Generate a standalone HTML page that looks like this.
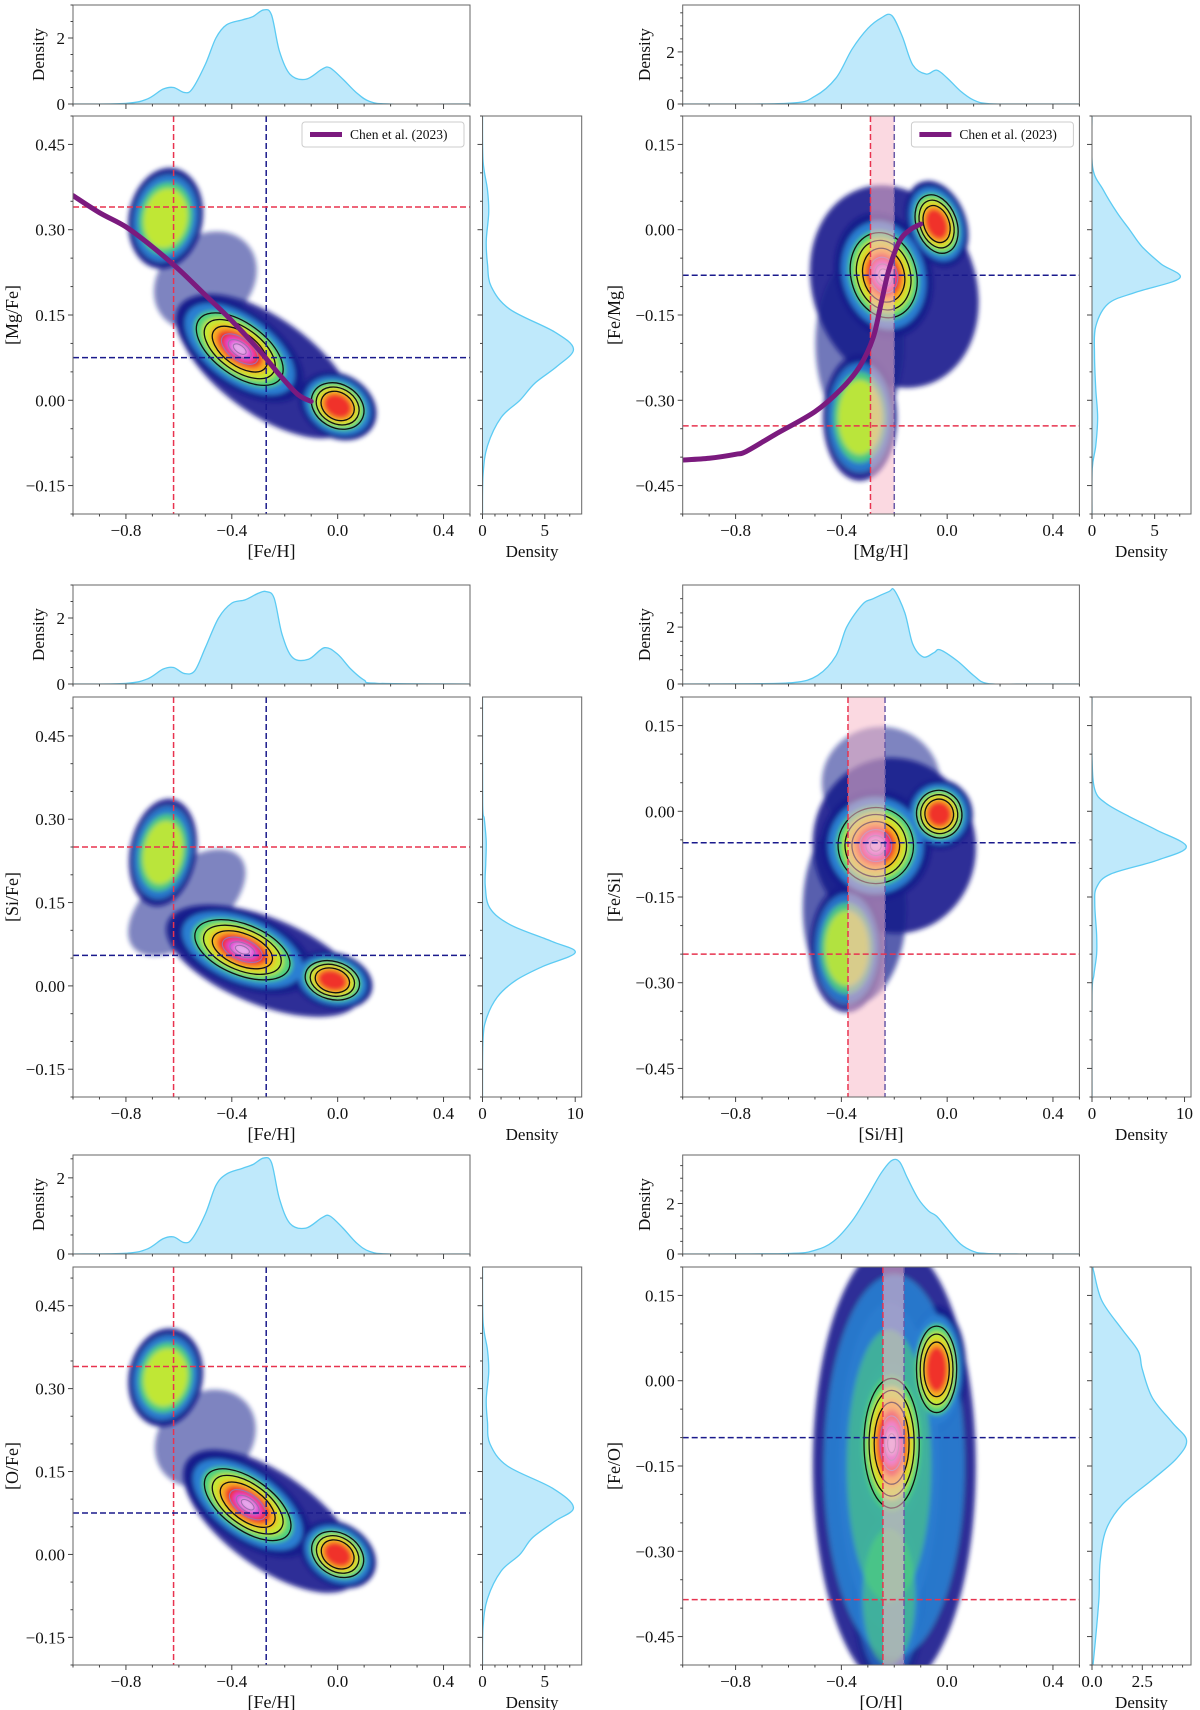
<!DOCTYPE html>
<html><head><meta charset="utf-8"><title>Abundance ratio panels</title>
<style>
html,body{margin:0;padding:0;background:#fff;}
svg{display:block;font-family:"Liberation Serif",serif;}
</style></head>
<body>
<svg id="fig" width="1200" height="1710" viewBox="0 0 1200 1710" xmlns="http://www.w3.org/2000/svg">
<defs>
<filter id="soft" x="-20%" y="-20%" width="140%" height="140%"><feGaussianBlur stdDeviation="2.4"/></filter>
</defs>
</svg>
<script>
// ---------- DATA ----------
const p1TopX=[-1,-0.8,-0.72,-0.66,-0.62,-0.58,-0.55,-0.5,-0.46,-0.42,-0.36,-0.32,-0.28,-0.25,-0.22,-0.18,-0.12,-0.06,-0.03,0.02,0.07,0.12,0.2,0.5];
const p1TopD=[0,0.02,0.15,0.45,0.5,0.35,0.45,1.2,2.0,2.4,2.55,2.65,2.85,2.7,1.6,0.9,0.75,1.05,1.1,0.75,0.35,0.08,0,0];
const p2TopX=[-1,-0.6,-0.5,-0.42,-0.36,-0.3,-0.25,-0.21,-0.17,-0.13,-0.08,-0.04,0.0,0.05,0.1,0.15,0.25,0.5];
const p2TopD=[0,0.03,0.3,1.0,2.1,2.9,3.3,3.4,2.6,1.5,1.15,1.3,1.0,0.5,0.15,0.02,0,0];
const p3TopX=[-1,-0.8,-0.72,-0.66,-0.62,-0.58,-0.54,-0.5,-0.45,-0.4,-0.35,-0.3,-0.27,-0.24,-0.21,-0.17,-0.11,-0.05,0.0,0.05,0.1,0.15,0.5];
const p3TopD=[0,0.02,0.15,0.45,0.5,0.32,0.4,1.1,2.0,2.45,2.55,2.75,2.8,2.6,1.5,0.8,0.75,1.1,0.9,0.45,0.12,0.02,0];
const p4TopX=[-1,-0.75,-0.58,-0.49,-0.42,-0.38,-0.32,-0.28,-0.22,-0.2,-0.16,-0.13,-0.09,-0.05,-0.026,0.04,0.1,0.15,0.27,0.5];
const p4TopD=[0,0.01,0.05,0.3,1.0,2.0,2.8,3.0,3.25,3.3,2.5,1.4,0.95,1.1,1.2,0.8,0.3,0.02,0,0];
const p5TopX=[-1,-0.8,-0.72,-0.66,-0.62,-0.58,-0.55,-0.5,-0.46,-0.42,-0.36,-0.32,-0.28,-0.25,-0.22,-0.18,-0.12,-0.06,-0.03,0.02,0.07,0.12,0.2,0.5];
const p5TopD=[0,0.02,0.13,0.4,0.45,0.3,0.4,1.05,1.8,2.1,2.25,2.35,2.52,2.4,1.45,0.8,0.68,0.95,1.0,0.68,0.3,0.07,0,0];
const p6TopX=[-1,-0.6,-0.5,-0.43,-0.36,-0.3,-0.25,-0.21,-0.18,-0.15,-0.11,-0.07,-0.04,0.0,0.05,0.1,0.15,0.3,0.5];
const p6TopD=[0,0.02,0.15,0.5,1.3,2.3,3.2,3.7,3.65,3.0,2.2,1.7,1.5,1.0,0.4,0.1,0.02,0,0];
const p1RightY=[-0.2,-0.13,-0.08,-0.03,0.0,0.03,0.06,0.09,0.12,0.16,0.2,0.24,0.28,0.33,0.37,0.42,0.5];
const p1RightD=[0,0.05,0.4,1.5,3.0,4.2,6.0,7.3,5.8,2.2,0.7,0.4,0.3,0.5,0.4,0.05,0];
const p2RightY=[-0.5,-0.42,-0.38,-0.33,-0.28,-0.22,-0.17,-0.13,-0.11,-0.085,-0.06,-0.03,0.0,0.03,0.07,0.11,0.2];
const p2RightD=[0,0.02,0.3,0.45,0.3,0.2,0.3,1.3,3.5,7.0,5.5,4.0,3.0,2.0,0.9,0.05,0];
const p3RightY=[-0.2,-0.1,-0.06,-0.02,0.01,0.035,0.06,0.08,0.11,0.14,0.18,0.22,0.26,0.3,0.33,0.52];
const p3RightD=[0,0.05,0.4,1.6,3.6,6.5,10.0,7.5,3.0,0.8,0.3,0.35,0.4,0.2,0.02,0];
const p4RightY=[-0.5,-0.322,-0.287,-0.25,-0.216,-0.163,-0.133,-0.11,-0.086,-0.062,-0.033,-0.009,0.014,0.038,0.097,0.2];
const p4RightD=[0,0,0.2,0.5,0.5,0.3,0.5,2.0,7.0,10.2,7.0,4.0,1.5,0.3,0,0];
const p5RightY=[-0.2,-0.13,-0.08,-0.03,0.0,0.03,0.06,0.085,0.12,0.16,0.2,0.24,0.28,0.33,0.37,0.42,0.52];
const p5RightD=[0,0.05,0.4,1.5,3.0,4.0,5.8,7.3,5.6,2.0,0.6,0.4,0.3,0.5,0.4,0.05,0];
const p6RightY=[-0.5,-0.445,-0.38,-0.319,-0.262,-0.218,-0.174,-0.137,-0.105,-0.074,-0.03,0.02,0.052,0.09,0.14,0.19,0.2];
const p6RightD=[0.05,0.2,0.35,0.4,0.7,1.5,3.0,4.2,4.7,4.0,3.0,2.5,2.3,1.5,0.5,0.1,0.05];
// scatter-cloud components: [cx, cy, sigmaX, sigmaY, rotationDeg, densityLevel, opacity]
const p1Clouds=[[-0.27,0.06,0.14,0.03,36,1,0.9],[-0.5,0.21,0.06,0.035,50,1,0.55],[-0.65,0.32,0.05,0.032,10,4,0.95],[-0.37,0.09,0.1,0.024,36,8,1],[0.0,-0.01,0.055,0.02,30,6,1]];
const p2Clouds=[[-0.2,-0.1,0.11,0.065,-20,1,0.9],[-0.33,-0.2,0.06,0.055,0,1,0.6],[-0.33,-0.33,0.05,0.04,0,4,0.9],[-0.24,-0.08,0.065,0.04,-15,8,1],[-0.04,0.01,0.04,0.028,-20,6,1]];
const p3Clouds=[[-0.28,0.045,0.14,0.028,22,1,0.9],[-0.57,0.15,0.05,0.045,50,1,0.55],[-0.66,0.24,0.045,0.035,10,4,0.9],[-0.36,0.065,0.1,0.024,22,8,1],[-0.02,0.01,0.055,0.018,15,6,1]];
const p4Clouds=[[-0.2,-0.06,0.11,0.055,-10,1,0.9],[-0.35,-0.17,0.07,0.06,0,1,0.7],[-0.25,0.05,0.08,0.035,0,1,0.55],[-0.38,-0.24,0.05,0.04,0,4,0.85],[-0.27,-0.06,0.075,0.035,-12,8,1],[-0.03,-0.005,0.045,0.022,-15,6,1]];
const p5Clouds=[[-0.25,0.06,0.14,0.03,36,1,0.9],[-0.5,0.21,0.06,0.035,50,1,0.55],[-0.65,0.32,0.05,0.032,10,4,0.95],[-0.34,0.09,0.1,0.024,36,8,1],[0.0,0.0,0.055,0.02,32,6,1]];
const p6Clouds=[[-0.2,-0.15,0.11,0.14,0,2,0.9],[-0.22,-0.15,0.08,0.12,0,3,0.6],[-0.22,-0.38,0.05,0.06,0,3,0.6],[-0.21,-0.11,0.055,0.06,0,8,1],[-0.04,0.02,0.04,0.04,0,6,1]];
const p1Ref=[-0.62,-0.27,0.34,0.075];
const p2Ref=[-0.29,-0.20,-0.345,-0.08];
const p3Ref=[-0.62,-0.27,0.25,0.055];
const p4Ref=[-0.375,-0.235,-0.25,-0.055];
const p5Ref=[-0.62,-0.27,0.34,0.075];
const p6Ref=[-0.243,-0.163,-0.385,-0.10];
const chen1X=[-1.0,-0.9,-0.8,-0.7,-0.6,-0.5,-0.4,-0.3,-0.22,-0.15,-0.1];
const chen1Y=[0.36,0.33,0.305,0.27,0.23,0.185,0.14,0.09,0.045,0.01,-0.002];
const chen2X=[-1.0,-0.9,-0.8,-0.76,-0.65,-0.5,-0.4,-0.33,-0.28,-0.25,-0.22,-0.18,-0.14,-0.1];
const chen2Y=[-0.405,-0.402,-0.395,-0.39,-0.36,-0.32,-0.28,-0.24,-0.19,-0.13,-0.07,-0.02,0.0,0.01];
const xTicks=[-0.8,-0.4,0.0,0.4];
const yTicksLeft=[0.45,0.30,0.15,0.00,-0.15];
const yTicksRight=[0.15,0.00,-0.15,-0.30,-0.45];

// ---------- LAYOUT ----------
const NS='http://www.w3.org/2000/svg';
const svg=document.getElementById('fig');
const ROWS=[{td:[5,104],m:[116,514]},{td:[585,684],m:[697,1097]},{td:[1155,1254],m:[1267,1665]}];
const COLS=[{m:[73,470],d:[482.5,581.7],yl:18,dl:44},{m:[682.7,1079.4],d:[1092,1191],yl:620,dl:650}];
const XDOM=[-1,0.5];
const panels=[
 {id:'p1',r:0,c:0,xl:'[Fe/H]',yl:'[Mg/Fe]',yd:[-0.2,0.5],yt:yTicksLeft,tdMax:3.0,rdMax:7.96,rdT:[0,5],rdL:['0','5'],rdMinor:1,
  topX:p1TopX,topD:p1TopD,rY:p1RightY,rD:p1RightD,cl:p1Clouds,ref:p1Ref,band:false,chx:chen1X,chy:chen1Y,leg:true},
 {id:'p2',r:0,c:1,xl:'[Mg/H]',yl:'[Fe/Mg]',yd:[-0.5,0.2],yt:yTicksRight,tdMax:3.8,rdMax:7.9,rdT:[0,5],rdL:['0','5'],rdMinor:1,
  topX:p2TopX,topD:p2TopD,rY:p2RightY,rD:p2RightD,cl:p2Clouds,ref:p2Ref,band:true,chx:chen2X,chy:chen2Y,leg:true},
 {id:'p3',r:1,c:0,xl:'[Fe/H]',yl:'[Si/Fe]',yd:[-0.2,0.52],yt:yTicksLeft,tdMax:3.0,rdMax:10.7,rdT:[0,10],rdL:['0','10'],rdMinor:2,
  topX:p3TopX,topD:p3TopD,rY:p3RightY,rD:p3RightD,cl:p3Clouds,ref:p3Ref,band:false},
 {id:'p4',r:1,c:1,xl:'[Si/H]',yl:'[Fe/Si]',yd:[-0.5,0.2],yt:yTicksRight,tdMax:3.48,rdMax:10.7,rdT:[0,10],rdL:['0','10'],rdMinor:2,
  topX:p4TopX,topD:p4TopD,rY:p4RightY,rD:p4RightD,cl:p4Clouds,ref:p4Ref,band:true},
 {id:'p5',r:2,c:0,xl:'[Fe/H]',yl:'[O/Fe]',yd:[-0.2,0.52],yt:yTicksLeft,tdMax:2.6,rdMax:7.96,rdT:[0,5],rdL:['0','5'],rdMinor:1,
  topX:p5TopX,topD:p5TopD,rY:p5RightY,rD:p5RightD,cl:p5Clouds,ref:p5Ref,band:false},
 {id:'p6',r:2,c:1,xl:'[O/H]',yl:'[Fe/O]',yd:[-0.5,0.2],yt:yTicksRight,tdMax:3.92,rdMax:4.92,rdT:[0,2.5],rdL:['0.0','2.5'],rdMinor:0.5,
  topX:p6TopX,topD:p6TopD,rY:p6RightY,rD:p6RightD,cl:p6Clouds,ref:p6Ref,band:true}
];
const LEVELS=[
 {k:2.8,c:'#161b8c'},{k:2.4,c:'#2a7fd2'},{k:2.0,c:'#4fd27a'},{k:1.65,c:'#c6e832'},
 {k:1.3,c:'#f8b020'},{k:1.0,c:'#f0302c'},{k:0.65,c:'#e046d6'},{k:0.35,c:'#e6aaec'}];

function mk(tag,attrs,parent){const e=document.createElementNS(NS,tag);for(const k in attrs)e.setAttribute(k,attrs[k]);(parent||svg).appendChild(e);return e;}
function fmt(v,dec){const s=Math.abs(v).toFixed(dec);return (v<-1e-9?'\u2212':'')+s;}
function smooth(pts){let d='M'+pts[0][0].toFixed(2)+','+pts[0][1].toFixed(2);
 for(let i=0;i<pts.length-1;i++){const p0=pts[i-1]||pts[i],p1=pts[i],p2=pts[i+1],p3=pts[i+2]||p2;
  const c1=[p1[0]+(p2[0]-p0[0])/6,p1[1]+(p2[1]-p0[1])/6],c2=[p2[0]-(p3[0]-p1[0])/6,p2[1]-(p3[1]-p1[1])/6];
  d+=' C'+c1[0].toFixed(2)+','+c1[1].toFixed(2)+' '+c2[0].toFixed(2)+','+c2[1].toFixed(2)+' '+p2[0].toFixed(2)+','+p2[1].toFixed(2);}
 return d;}
function txt(x,y,s,size,anchor,parent,rot){const t=mk('text',{x:x,y:y,'font-size':size,'text-anchor':anchor||'middle',fill:'#111'},parent);
 if(rot)t.setAttribute('transform','rotate(-90 '+x+' '+y+')');t.textContent=s;return t;}

panels.forEach(P=>{
 const R=ROWS[P.r],C=COLS[P.c];
 const g=mk('g',{});
 
 
 const X0=C.m[0],X1=C.m[1],Y0=R.m[0],Y1=R.m[1];
 const sx=v=>X0+(v-XDOM[0])/(XDOM[1]-XDOM[0])*(X1-X0);
 const sy=v=>Y1-(v-P.yd[0])/(P.yd[1]-P.yd[0])*(Y1-Y0);
 const kx=(X1-X0)/(XDOM[1]-XDOM[0]),ky=(Y1-Y0)/(P.yd[1]-P.yd[0]);
 const tdy=v=>R.td[1]-v/P.tdMax*(R.td[1]-R.td[0]);
 const rdx=v=>C.d[0]+v/P.rdMax*(C.d[1]-C.d[0]);

 const cp=mk('clipPath',{id:'clip-'+P.id},g);
 mk('rect',{x:X0,y:Y0,width:X1-X0,height:Y1-Y0},cp);
 const cpt=mk('clipPath',{id:'clipt-'+P.id},g);
 mk('rect',{x:X0,y:R.td[0],width:X1-X0,height:R.td[1]-R.td[0]},cpt);
 const cpr=mk('clipPath',{id:'clipr-'+P.id},g);
 mk('rect',{x:C.d[0],y:Y0,width:C.d[1]-C.d[0],height:Y1-Y0},cpr);

 // ---- top KDE ----
 const tpts=P.topX.map((x,i)=>[sx(x),tdy(P.topD[i])]);
 const tg=mk('g',{'clip-path':'url(#clipt-'+P.id+')'},g);
 const ta=mk('path',{d:smooth(tpts)+' L'+tpts[tpts.length-1][0]+','+R.td[1]+' L'+tpts[0][0]+','+R.td[1]+' Z',fill:'#bfe9fb',stroke:'none'},tg);
 
 
 const tl=mk('path',{d:smooth(tpts),fill:'none',stroke:'#5ccbf3','stroke-width':1.3},tg);
 
 
 const tb=mk('rect',{x:X0,y:R.td[0],width:X1-X0,height:R.td[1]-R.td[0],fill:'none',stroke:'#666','stroke-width':1},g);
 
 
 for(let v=-1;v<=0.5001;v+=0.1){const major=xTicks.some(t=>Math.abs(t-v)<1e-6);
  mk('line',{x1:sx(v),x2:sx(v),y1:R.td[1],y2:R.td[1]+(major?5:2.5),stroke:'#444','stroke-width':1},g);}
 for(let v=0;v<=P.tdMax+1e-6;v+=0.5){const major=Math.abs(v%2)<1e-6;
  mk('line',{x1:X0,x2:X0-(major?5:2.5),y1:tdy(v),y2:tdy(v),stroke:'#444','stroke-width':1},g);
  if(major){const t=txt(X0-8,tdy(v)+6,String(v),17,'end',g);}}
 const dlab=txt(C.dl,(R.td[0]+R.td[1])/2,'Density',17,'middle',g,true);
 
 

 // ---- main scatter clouds ----
 const mg=mk('g',{'clip-path':'url(#clip-'+P.id+')'},g);
 const cg=mk('g',{filter:'url(#soft)'},mg);
 LEVELS.forEach((L,li)=>{
  P.cl.forEach(b=>{ if(b[5]>li){
   const e=mk('ellipse',{cx:sx(b[0]),cy:sy(b[1]),rx:b[2]*kx*L.k,ry:b[3]*ky*L.k,fill:L.c,'fill-opacity':b[6],
     transform:'rotate('+b[4]+' '+sx(b[0])+' '+sy(b[1])+')'},cg);
   
   
  }});
 });
 P.cl.forEach(b=>{ if(b[5]>=6){
  [1.9,1.55,1.2].forEach(k=>{const e=mk('ellipse',{cx:sx(b[0]),cy:sy(b[1]),rx:b[2]*kx*k,ry:b[3]*ky*k,fill:'none',stroke:'#111','stroke-width':1.3,
    transform:'rotate('+b[4]+' '+sx(b[0])+' '+sy(b[1])+')'},mg);
   
   });
  if(b[5]>=8){[0.8,0.5,0.28].forEach(k=>{const e=mk('ellipse',{cx:sx(b[0]),cy:sy(b[1]),rx:b[2]*kx*k,ry:b[3]*ky*k,fill:'none',stroke:'#a070b0','stroke-width':1.1,
    transform:'rotate('+b[4]+' '+sx(b[0])+' '+sy(b[1])+')'},mg);
   
   });}
 }});
 const rf=P.ref;
 if(P.band){
  const br=mk('rect',{x:sx(rf[0]),y:Y0,width:sx(rf[1])-sx(rf[0]),height:Y1-Y0,fill:'#f7b9c9','fill-opacity':0.55},mg);
  
  
 }
 const vr=mk('line',{x1:sx(rf[0]),x2:sx(rf[0]),y1:Y0,y2:Y1,stroke:'#e8334f','stroke-width':1.5,'stroke-dasharray':'6,3'},mg);
 
 
 const vb=mk('line',{x1:sx(rf[1]),x2:sx(rf[1]),y1:Y0,y2:Y1,stroke:P.band?'#6a5aa8':'#1a1a8c','stroke-width':1.5,'stroke-dasharray':'6,3'},mg);
 
 
 const hr=mk('line',{x1:X0,x2:X1,y1:sy(rf[2]),y2:sy(rf[2]),stroke:'#e8334f','stroke-width':1.5,'stroke-dasharray':'6,3'},mg);
 
 
 const hb=mk('line',{x1:X0,x2:X1,y1:sy(rf[3]),y2:sy(rf[3]),stroke:'#1a1a8c','stroke-width':1.5,'stroke-dasharray':'6,3'},mg);
 
 
 if(P.chx){
  const pts=P.chx.map((x,i)=>[sx(x),sy(P.chy[i])]);
  const cl=mk('path',{d:smooth(pts),fill:'none',stroke:'#7b1a7e','stroke-width':5,'stroke-linecap':'round'},mg);
  
  
 }
 const mb=mk('rect',{x:X0,y:Y0,width:X1-X0,height:Y1-Y0,fill:'none',stroke:'#666','stroke-width':1},g);
 
 
 if(P.leg){
  const lx=X1-168,ly=Y0+6;
  const lg=mk('g',{},g);
  
  
  mk('rect',{x:lx,y:ly,width:162,height:25,rx:3,fill:'#fff',stroke:'#ccc','stroke-width':1},lg);
  mk('line',{x1:lx+8,x2:lx+40,y1:ly+12.5,y2:ly+12.5,stroke:'#7b1a7e','stroke-width':5},lg);
  const lt=txt(lx+48,ly+17,'Chen et al. (2023)',13.5,'start',lg);
  
  
 }
 for(let v=-1;v<=0.5001;v+=0.1){const major=xTicks.some(t=>Math.abs(t-v)<1e-6);
  mk('line',{x1:sx(v),x2:sx(v),y1:Y1,y2:Y1+(major?5:2.5),stroke:'#444','stroke-width':1},g);}
 xTicks.forEach(v=>{const t=txt(sx(v),Y1+22,fmt(v,1),17,'middle',g);
  
  });
 const xt=txt((X0+X1)/2,Y1+43,P.xl,18,'middle',g);
 
 
 for(let v=-0.5;v<=0.55;v+=0.05){const vv=Math.round(v*100)/100;if(vv<P.yd[0]-1e-6||vv>P.yd[1]+1e-6)continue;
  const major=P.yt.some(t=>Math.abs(t-vv)<1e-6);
  mk('line',{x1:X0,x2:X0-(major?5:2.5),y1:sy(vv),y2:sy(vv),stroke:'#444','stroke-width':1},g);}
 P.yt.forEach(v=>{const t=txt(X0-8,sy(v)+6,fmt(v,2),17,'end',g);
  
  });
 const yt=txt(C.yl,(Y0+Y1)/2,P.yl,18,'middle',g,true);
 
 

 // ---- right KDE ----
 const rpts=P.rY.map((y,i)=>[rdx(P.rD[i]),sy(y)]);
 const rg=mk('g',{'clip-path':'url(#clipr-'+P.id+')'},g);
 const ra=mk('path',{d:smooth(rpts)+' L'+C.d[0]+','+rpts[rpts.length-1][1]+' L'+C.d[0]+','+rpts[0][1]+' Z',fill:'#bfe9fb',stroke:'none'},rg);
 
 
 const rl=mk('path',{d:smooth(rpts),fill:'none',stroke:'#5ccbf3','stroke-width':1.3},rg);
 
 
 const rb=mk('rect',{x:C.d[0],y:Y0,width:C.d[1]-C.d[0],height:Y1-Y0,fill:'none',stroke:'#666','stroke-width':1},g);
 
 
 for(let v=0;v<=P.rdMax+1e-6;v+=P.rdMinor){const major=P.rdT.some(t=>Math.abs(t-v)<1e-6);
  mk('line',{x1:rdx(v),x2:rdx(v),y1:Y1,y2:Y1+(major?5:2.5),stroke:'#444','stroke-width':1},g);}
 P.rdT.forEach((v,i)=>{const t=txt(rdx(v),Y1+22,P.rdL[i],17,'middle',g);
  
  });
 const rt=txt((C.d[0]+C.d[1])/2,Y1+43,'Density',17,'middle',g);
 
 
 for(let v=-0.5;v<=0.55;v+=0.05){const vv=Math.round(v*100)/100;if(vv<P.yd[0]-1e-6||vv>P.yd[1]+1e-6)continue;
  const major=P.yt.some(t=>Math.abs(t-vv)<1e-6);
  mk('line',{x1:C.d[0],x2:C.d[0]-(major?5:2.5),y1:sy(vv),y2:sy(vv),stroke:'#444','stroke-width':1},g);}
});
</script>
</body></html>
